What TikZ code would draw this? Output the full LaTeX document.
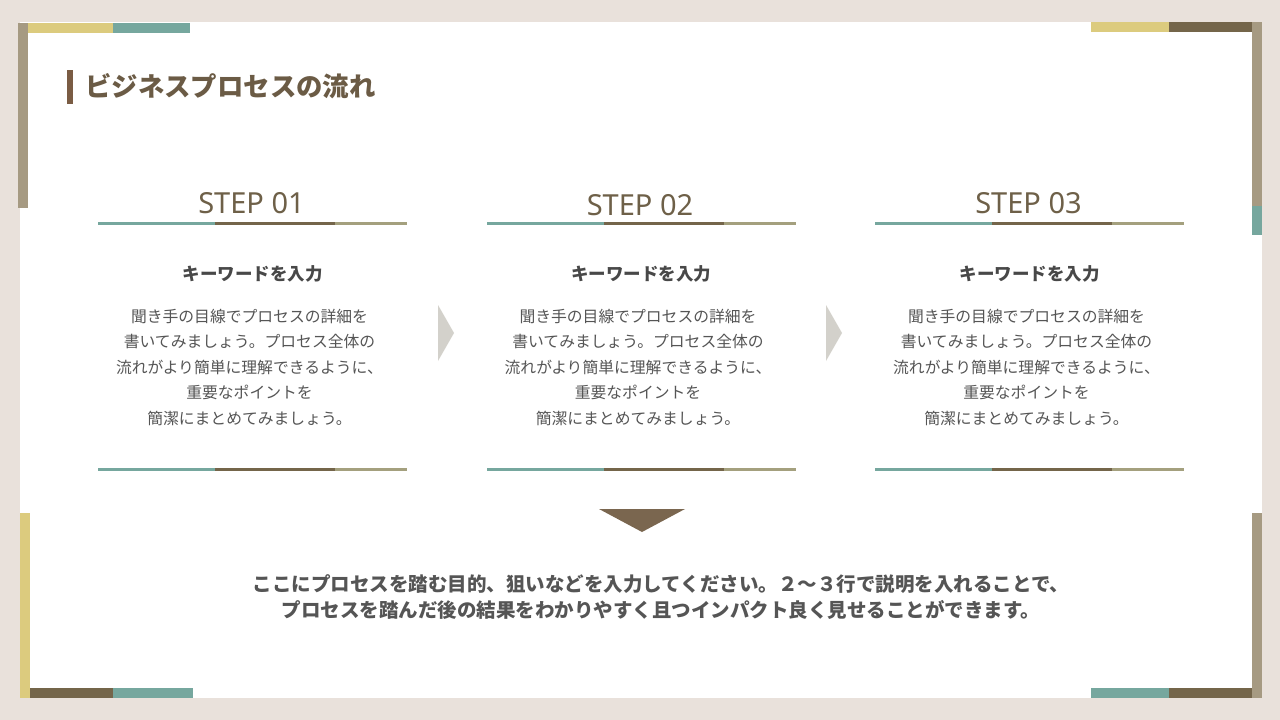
\documentclass[tikz,border=0pt]{standalone}
\usepackage{fontspec}
\setmainfont{Noto Sans CJK JP}
\newfontfamily\stepfont{Noto Sans}
\definecolor{bgc}{HTML}{E9E1DB}
\definecolor{yel}{HTML}{DCCB7E}
\definecolor{teal2}{HTML}{76A79E}
\definecolor{dbrown}{HTML}{74654A}
\definecolor{taupe}{HTML}{A69A82}
\definecolor{olive}{HTML}{A4A07E}
\definecolor{titlebar}{HTML}{7A5C44}
\definecolor{titletxt}{HTML}{6B5B45}
\definecolor{steptxt}{HTML}{6E6048}
\definecolor{bodytxt}{HTML}{555555}
\definecolor{chev}{HTML}{D3D1CB}
\definecolor{downtri}{HTML}{7A664F}
\tikzset{
  steplabel/.style={text=steptxt, font=\stepfont\fontsize{29}{34}\selectfont, inner sep=0pt},
  keyword/.style={text=bodytxt!85!black, font=\bfseries\fontsize{17.5}{20}\selectfont, inner sep=0pt},
  bodytext/.style={text=bodytxt, align=center, font=\fontsize{15.8}{25.5}\selectfont, inner sep=0pt},
  bottomtext/.style={text=bodytxt, align=center, font=\bfseries\fontsize{19.5}{26}\selectfont, inner sep=0pt},
}
\begin{document}
\begin{tikzpicture}[x=1pt,y=-1pt]
\useasboundingbox (0,0) rectangle (1280,720);
\fill[bgc] (0,0) rectangle (1280,720);
\fill[white] (20,22) rectangle (1262,698);
% corner decorations
\fill[taupe] (18,23) rectangle (28,208);
\fill[yel] (28,23) rectangle (113,33);
\fill[teal2] (113,23) rectangle (190,33);
\fill[yel] (1091,22) rectangle (1169,32);
\fill[dbrown] (1169,22) rectangle (1252,32);
\fill[taupe] (1252,22) rectangle (1262,206);
\fill[teal2] (1252,206) rectangle (1262,235);
\fill[yel] (20,513) rectangle (30,698);
\fill[dbrown] (30,688) rectangle (113,698);
\fill[teal2] (113,688) rectangle (193,698);
\fill[taupe] (1252,513) rectangle (1262,698);
\fill[teal2] (1091,688) rectangle (1169,698);
\fill[dbrown] (1169,688) rectangle (1252,698);
% title
\fill[titlebar] (67,70) rectangle (73,104);
\node[anchor=west, inner sep=0pt, text=titletxt, font=\bfseries\fontsize{26.4}{30}\selectfont] (title) at (85,86) {ビジネスプロセスの流れ};
% columns
\foreach \i/\cx/\sy in {1/252.5/203, 2/641/205, 3/1029.5/203} {
  \fill[teal2] (\cx-154.5,221.5) rectangle (\cx-37.5,224.5);
  \fill[dbrown] (\cx-37.5,221.5) rectangle (\cx+82.5,224.5);
  \fill[olive] (\cx+82.5,221.5) rectangle (\cx+154.5,224.5);
  \fill[teal2] (\cx-154.5,467.5) rectangle (\cx-37.5,470.5);
  \fill[dbrown] (\cx-37.5,467.5) rectangle (\cx+82.5,470.5);
  \fill[olive] (\cx+82.5,467.5) rectangle (\cx+154.5,470.5);
  \node[steplabel] (step\i) at (\cx-1,\sy) {STEP 0\i};
  \node[keyword] (kw\i) at (\cx,274) {キーワードを入力};
  \node[bodytext] (body\i) at (\cx-3,367) {聞き手の目線でプロセスの詳細を\\書いてみましょう。プロセス全体の\\流れがより簡単に理解できるように、\\重要なポイントを\\簡潔にまとめてみましょう。};
}
% chevrons
\fill[chev] (438,305) -- (454,333) -- (438,361) -- cycle;
\fill[chev] (826,305) -- (842,333) -- (826,361) -- cycle;
% down triangle
\fill[downtri] (599,509) -- (685,509) -- (642,532) -- cycle;
% bottom text
\node[bottomtext] (summary) at (661,597) {ここにプロセスを踏む目的、狙いなどを入力してください。２～３行で説明を入れることで、\\プロセスを踏んだ後の結果をわかりやすく且つインパクト良く見せることができます。};
\end{tikzpicture}
\end{document}
